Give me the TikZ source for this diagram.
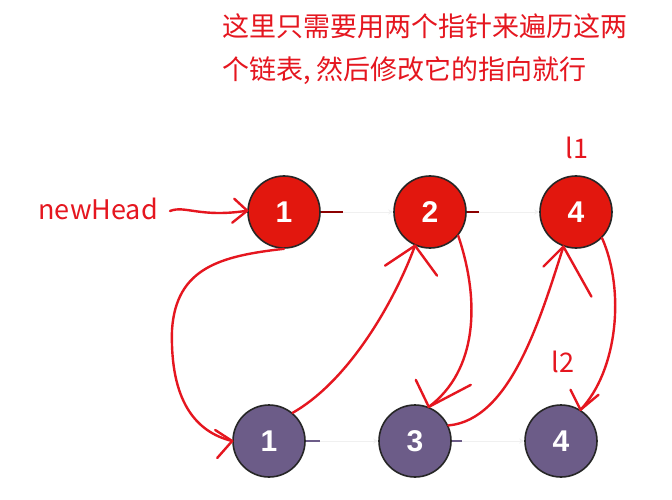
\documentclass[tikz,border=0pt]{standalone}
\usepackage{fontspec}
\setmainfont{Liberation Sans}
\newfontfamily\cjk{Noto Sans CJK SC}
\usetikzlibrary{arrows.meta}
\definecolor{nred}{HTML}{E2170E}
\definecolor{npurp}{HTML}{6C5C88}
\definecolor{ink}{HTML}{E5161F}
\begin{document}
\begin{tikzpicture}[x=1pt,y=-1pt,
  listnode/.style={circle,draw=black!85,line width=1.6pt,minimum size=72pt,inner sep=0pt,text=white,font=\fontsize{30}{30}\selectfont\bfseries},
  rednode/.style={listnode,fill=nred},
  purpnode/.style={listnode,fill=npurp},
  hand/.style={draw=ink,line width=2.4pt,line cap=round,line join=round},
  lbl/.style={text=ink,inner sep=0pt,font=\cjk\fontsize{27}{27}\selectfont},
  fade/.style={draw=black!6,line width=1pt,-{Stealth[length=5pt,width=5pt]}},
  stubr/.style={draw=red!55!black,line width=1.5pt},
  stubp/.style={draw=npurp,line width=1.5pt}]
\useasboundingbox[fill=white] (0,0) rectangle (672,500);

% title text
\node[lbl,anchor=west] (t1) at (222,26) {这里只需要用两个指针来遍历这两};
\node[lbl,anchor=west] (t2) at (222,71) {个链表, 然后修改它的指向就行};

% list nodes
\node[rednode] (r1) at (284,212) {1};
\node[rednode] (r2) at (430,212) {2};
\node[rednode] (r4) at (576,212) {4};
\node[purpnode] (p1) at (269,441) {1};
\node[purpnode] (p3) at (415,441) {3};
\node[purpnode] (p4) at (561,441) {4};

% faded list links
\draw[fade] (r1) -- (r2);
\draw[fade] (r2) -- (r4);
\draw[fade] (p1) -- (p3);
\draw[fade] (p3) -- (p4);
\draw[stubr] (r1.east) -- +(22,0);
\draw[stubr] (r2.east) -- +(12,0);
\draw[stubp] (p1.east) -- +(14,0);
\draw[stubp] (p3.east) -- +(10,0);

% labels
\node[lbl,font=\cjk\fontsize{27}{27}\selectfont,anchor=east] (nh) at (158,209) {newHead};
\node[lbl,font=\cjk\fontsize{27}{27}\selectfont] (l1) at (577,148) {l1};
\node[lbl,font=\cjk\fontsize{27}{27}\selectfont] (l2) at (563,362) {l2};

% hand drawn arrows
% newHead -> r1
\draw[hand] (nh.east) ++(12,2) .. controls (185,205) and (200,218) .. (r1.178);
\draw[hand] (r1.178) -- +(-13,-12);
\draw[hand] (r1.178) -- +(-15,12);

% r1 -> p1
\draw[hand] (r1.-90) .. controls (220,256) and (176,268) .. (172,330)
  .. controls (170,400) and (195,432) .. (p1.west);
\draw[hand] (p1.west) -- +(-17,-11);
\draw[hand] (p1.west) -- +(-15,17);

% p1 -> r2
\draw[hand] (p1.50) .. controls (350,380) and (395,300) .. (r2.-114);
\draw[hand] (r2.-114) -- +(-30,20);
\draw[hand] (r2.-114) -- +(22,30);

% r2 -> p3
\draw[hand] (r2.-40) .. controls (480,300) and (478,370) .. (p3.68);
\draw[hand] (p3.68) -- +(-13,-27);
\draw[hand] (p3.68) -- +(42,-22);

% p3 -> r4
\draw[hand] (p3.25) .. controls (510,420) and (540,320) .. (r4.-110);
\draw[hand] (r4.-110) -- +(-20,20);
\draw[hand] (r4.-110) -- +(28,50);

% r4 -> p4
\draw[hand] (r4.-45) .. controls (625,290) and (618,370) .. (p4.58);
\draw[hand] (p4.58) -- +(-10,-20);
\draw[hand] (p4.58) -- +(18,-15);
\end{tikzpicture}
\end{document}
